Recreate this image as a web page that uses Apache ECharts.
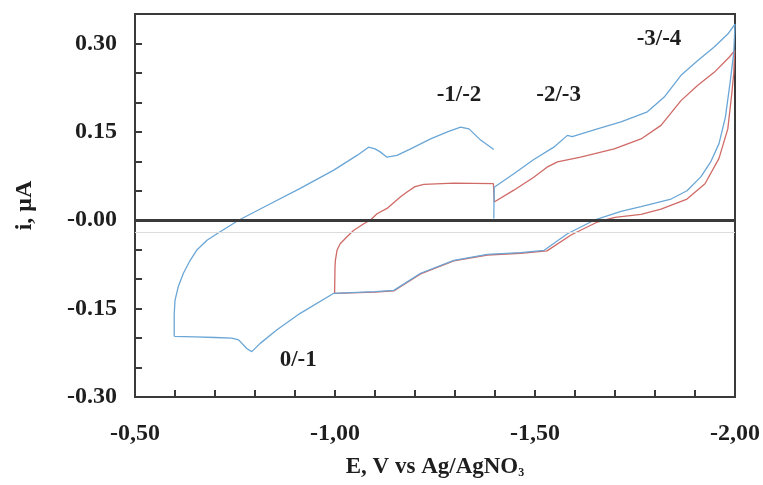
<!DOCTYPE html>
<html>
<head>
<meta charset="utf-8">
<script src="https://cdn.jsdelivr.net/npm/echarts@6/dist/echarts.min.js"></script>
<style>
  html, body { margin: 0; padding: 0; background: #ffffff; }
  #chart { width: 763px; height: 485px; }
</style>
</head>
<body>
<div id="chart"></div>
<script>
// Cyclic voltammograms: potential E (V vs Ag/AgNO3) and current i (µA)
// Wide scan (blue): from -0.60 V to -2.00 V and back; null marks the break at -1.40 V
const blueE = [
  -0.598, -0.598, -0.600, -0.608, -0.621, -0.638, -0.654, -0.680, -0.705, -0.759,
  -0.830, -0.913, -0.997, -1.055, -1.084, -1.100, -1.113, -1.130, -1.155, -1.189,
  -1.239, -1.281, -1.314, -1.335, -1.364, -1.397,
  null,
  -1.397, -1.398, -1.447, -1.497, -1.547, -1.581, -1.593, -1.656, -1.715, -1.781,
  -1.823, -1.865, -1.907, -1.948, -1.982, -2.000,
  -1.997, -1.988, -1.976, -1.960, -1.940, -1.915, -1.880, -1.840, -1.800, -1.765,
  -1.715, -1.648, -1.581, -1.523, -1.464, -1.381, -1.297, -1.214, -1.147, -1.100,
  -0.997, -0.913, -0.855, -0.813, -0.792, -0.780, -0.759, -0.742, -0.700, -0.650,
  -0.598
];
const blueI = [
  -0.197, -0.160, -0.136, -0.113, -0.090, -0.068, -0.051, -0.034, -0.023, 0.000,
  0.025, 0.054, 0.085, 0.110, 0.124, 0.121, 0.116, 0.107, 0.110, 0.121,
  0.138, 0.150, 0.158, 0.155, 0.136, 0.120,
  null,
  0.003, 0.056, 0.079, 0.103, 0.124, 0.144, 0.142, 0.155, 0.167, 0.184,
  0.209, 0.246, 0.271, 0.294, 0.316, 0.333,
  0.285, 0.235, 0.175, 0.130, 0.100, 0.074, 0.050, 0.036, 0.029, 0.023,
  0.015, 0.000, -0.023, -0.051, -0.055, -0.058, -0.068, -0.090, -0.119, -0.121,
  -0.124, -0.158, -0.186, -0.209, -0.223, -0.218, -0.203, -0.200, -0.199, -0.198,
  -0.197
];

// Narrow scan (red): from -1.00 V to -2.00 V and back
const redE = [
  -0.999, -1.000, -1.001, -1.005, -1.013, -1.030, -1.047, -1.072, -1.088, -1.105,
  -1.130, -1.164, -1.180, -1.200, -1.222, -1.297, -1.396,
  -1.398, -1.447, -1.497, -1.530, -1.556, -1.614, -1.698, -1.765, -1.815,
  -1.865, -1.907, -1.948, -1.986, -1.999,
  -1.997, -1.992, -1.982, -1.960, -1.925, -1.880, -1.815, -1.765, -1.700, -1.656,
  -1.590, -1.530, -1.464, -1.381, -1.297, -1.214, -1.147, -1.100, -0.999
];
const redI = [
  -0.124, -0.079, -0.068, -0.051, -0.040, -0.028, -0.017, -0.006, 0.000, 0.011,
  0.020, 0.040, 0.048, 0.057, 0.061, 0.063, 0.062,
  0.031, 0.051, 0.073, 0.090, 0.099, 0.107, 0.121, 0.138, 0.161,
  0.203, 0.229, 0.251, 0.277, 0.288,
  0.250, 0.215, 0.155, 0.105, 0.062, 0.036, 0.019, 0.010, 0.005, -0.003,
  -0.025, -0.052, -0.056, -0.059, -0.069, -0.091, -0.120, -0.122, -0.124
];

// Redox couple labels placed in data coordinates
const annoText = ['0/-1', '-1/-2', '-2/-3', '-3/-4'];
const annoE = [-0.908, -1.310, -1.559, -1.810];
const annoI = [-0.237, 0.212, 0.212, 0.308];

// Axis ranges and tick steps
const xMin = -2.0, xMax = -0.5, xStep = 0.1;
const yMin = -0.30, yMax = 0.35, yStep = 0.05;

const pairs = (xs, ys) => xs.map((x, k) => (x === null ? [null, null] : [x, ys[k]]));

const FONT = "'Liberation Serif', 'Times New Roman', serif";
const INK = '#3a3a3a';
const TEXT = '#1e1e1e';

const chart = echarts.init(document.getElementById('chart'), null, { renderer: 'canvas' });

chart.setOption({
  animation: false,
  backgroundColor: '#ffffff',
  grid: {
    left: 135, right: 28, top: 14, bottom: 88,
    show: true, borderColor: INK, borderWidth: 2
  },
  xAxis: {
    type: 'value',
    inverse: true,
    min: xMin, max: xMax, interval: xStep,
    name: 'E, V vs Ag/AgNO{sub|3}',
    nameLocation: 'middle',
    nameGap: 58,
    nameTextStyle: {
      fontFamily: FONT, fontWeight: 'bold', fontSize: 23, color: TEXT,
      rich: {
        sub: { fontFamily: FONT, fontWeight: 'bold', fontSize: 12, color: TEXT, padding: [12, 0, 0, 0] }
      }
    },
    axisLine: { show: true, onZero: false, lineStyle: { color: INK, width: 2 } },
    axisTick: { show: true, inside: true, length: 7, lineStyle: { color: INK, width: 2 } },
    splitLine: { show: false },
    axisLabel: {
      margin: 25,
      fontFamily: FONT, fontWeight: 'bold', fontSize: 24, color: TEXT,
      formatter: function (v) {
        const k = Math.round(v * 10);
        return k % 5 === 0 ? v.toFixed(2).replace('.', ',') : '';
      }
    }
  },
  yAxis: {
    type: 'value',
    min: yMin, max: yMax, interval: yStep,
    name: 'i, μA',
    nameLocation: 'middle',
    nameRotate: 90,
    nameGap: 98,
    nameTextStyle: { fontFamily: FONT, fontWeight: 'bold', fontSize: 24, color: TEXT },
    axisLine: { show: true, onZero: false, lineStyle: { color: INK, width: 2 } },
    axisTick: { show: true, inside: true, length: 7, lineStyle: { color: INK, width: 2 } },
    splitLine: { show: false },
    axisLabel: {
      margin: 18,
      fontFamily: FONT, fontWeight: 'bold', fontSize: 24, color: TEXT,
      formatter: function (v) {
        const k = Math.round(v * 100);
        if (k % 15 !== 0) return '';
        return k === 0 ? '-0.00' : (k / 100).toFixed(2);
      }
    }
  },
  series: [
    {
      name: 'narrow scan',
      type: 'line',
      data: pairs(redE, redI),
      showSymbol: false,
      connectNulls: false,
      lineStyle: { color: '#cf6a66', width: 1.3 },
      z: 3,
      markLine: {
        silent: true,
        symbol: ['none', 'none'],
        label: { show: false },
        data: [
          { yAxis: 0, lineStyle: { color: INK, width: 3, type: 'solid' } },
          { yAxis: -0.02, lineStyle: { color: '#dcdcdc', width: 1, type: 'solid' } }
        ]
      }
    },
    {
      name: 'wide scan',
      type: 'line',
      data: pairs(blueE, blueI),
      showSymbol: false,
      connectNulls: false,
      lineStyle: { color: '#6aa6d6', width: 1.3 },
      z: 4
    },
    {
      name: 'couples',
      type: 'scatter',
      symbolSize: 0,
      silent: true,
      itemStyle: { opacity: 1 },
      data: annoText.map((t, k) => ({ name: t, value: [annoE[k], annoI[k]] })),
      label: {
        show: true,
        position: 'inside',
        formatter: '{b}',
        opacity: 1,
        fontFamily: FONT, fontWeight: 'bold', fontSize: 23, color: TEXT
      },
      z: 5
    }
  ]
});
</script>
</body>
</html>
